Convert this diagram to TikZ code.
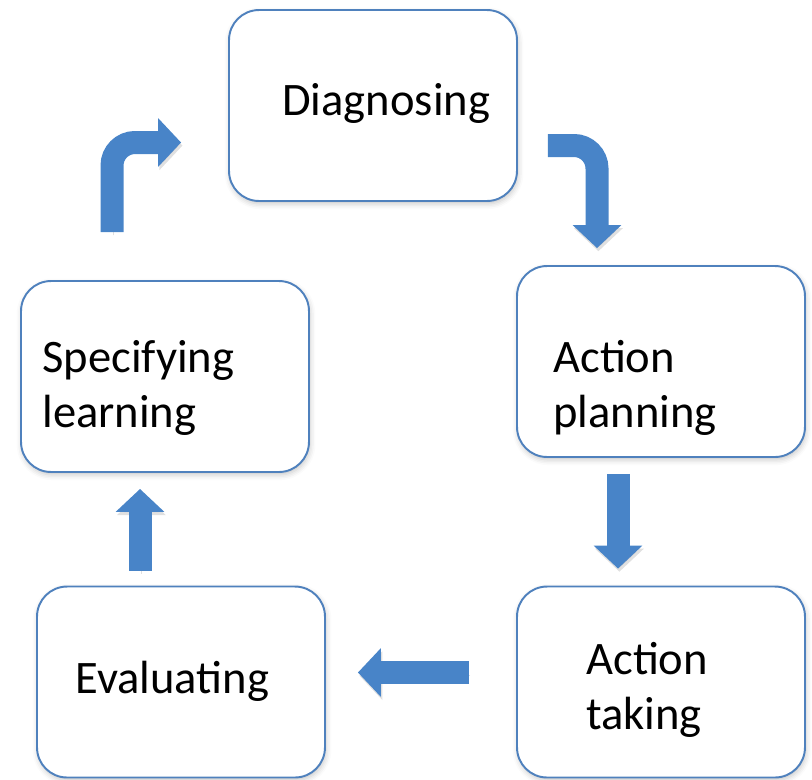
\documentclass[tikz,border=0pt]{standalone}
\usepackage{fontspec}
\setmainfont{Carlito}
\usepackage{tikz}
\usetikzlibrary{arrows.meta,shadows.blur,positioning}
\definecolor{boxline}{RGB}{79,129,189}
\definecolor{arrowblue}{RGB}{72,132,200}

\tikzset{
  stage/.style={draw=boxline, line width=1.1pt, rounded corners=0.6cm, fill=white,
    minimum width=5.76cm, minimum height=3.82cm, inner sep=0pt,
    blur shadow={shadow xshift=0.6pt, shadow yshift=-1.6pt, shadow opacity=22, shadow blur radius=3pt}},
  stagetext/.style={anchor=base west, inner sep=0pt, align=left,
    font=\fontsize{26.5}{31.3}\selectfont},
  blockarrow/.style={draw=arrowblue, line width=0.46cm, rounded corners=0.46cm,
    -{Triangle[length=0.46cm, width=0.95cm]},
    preaction={draw=black!35, opacity=0.35, transform canvas={shift={(0.8pt,-1.8pt)}}}}
}

\begin{document}
\begin{tikzpicture}[x=0.02cm, y=-0.02cm]
	\useasboundingbox (0,0) rectangle (812,779);
	% boxes
	\node[stage] (diag) at (373,105.5) {};
	\node[stage] (plan) at (661,361.5) {};
	\node[stage] (take) at (661,682) {};
	\node[stage] (eval) at (181,682) {};
	\node[stage] (spec) at (165,376.5) {};
	% labels (base = last line)
	\node[stagetext] (diagtext) at (282,115) {Diagnosing};
	\node[stagetext] (plantext) at (553,427) {Action\\planning};
	\node[stagetext] (taketext) at (586,729) {Action\\taking};
	\node[stagetext] (evaltext) at (75,693) {Evaluating};
	\node[stagetext] (spectext) at (42,427) {Specifying\\learning};
	% arrows
	\draw[blockarrow, shorten <=0.96cm, shorten >=0.94cm] ([xshift=-1.06cm]spec.north) |- ([yshift=-0.74cm]diag.west);
	\draw[blockarrow, shorten <=0.6cm, shorten >=0.34cm] ([yshift=-0.8cm]diag.east) -| ([xshift=-1.28cm]plan.north);
	\draw[blockarrow, shorten <=0.32cm, shorten >=0.34cm] ([xshift=-0.86cm]plan.south) -- ([xshift=-0.86cm]take.north);
	\draw[blockarrow, shorten <=0.94cm, shorten >=0.64cm] ([yshift=0.19cm]take.west) -- ([yshift=0.19cm]eval.east);
	\draw[blockarrow, shorten <=0.3cm, shorten >=0.32cm] ([xshift=-0.82cm]eval.north) -- ([xshift=-0.82cm]eval.north |- spec.south);
\end{tikzpicture}
\end{document}
